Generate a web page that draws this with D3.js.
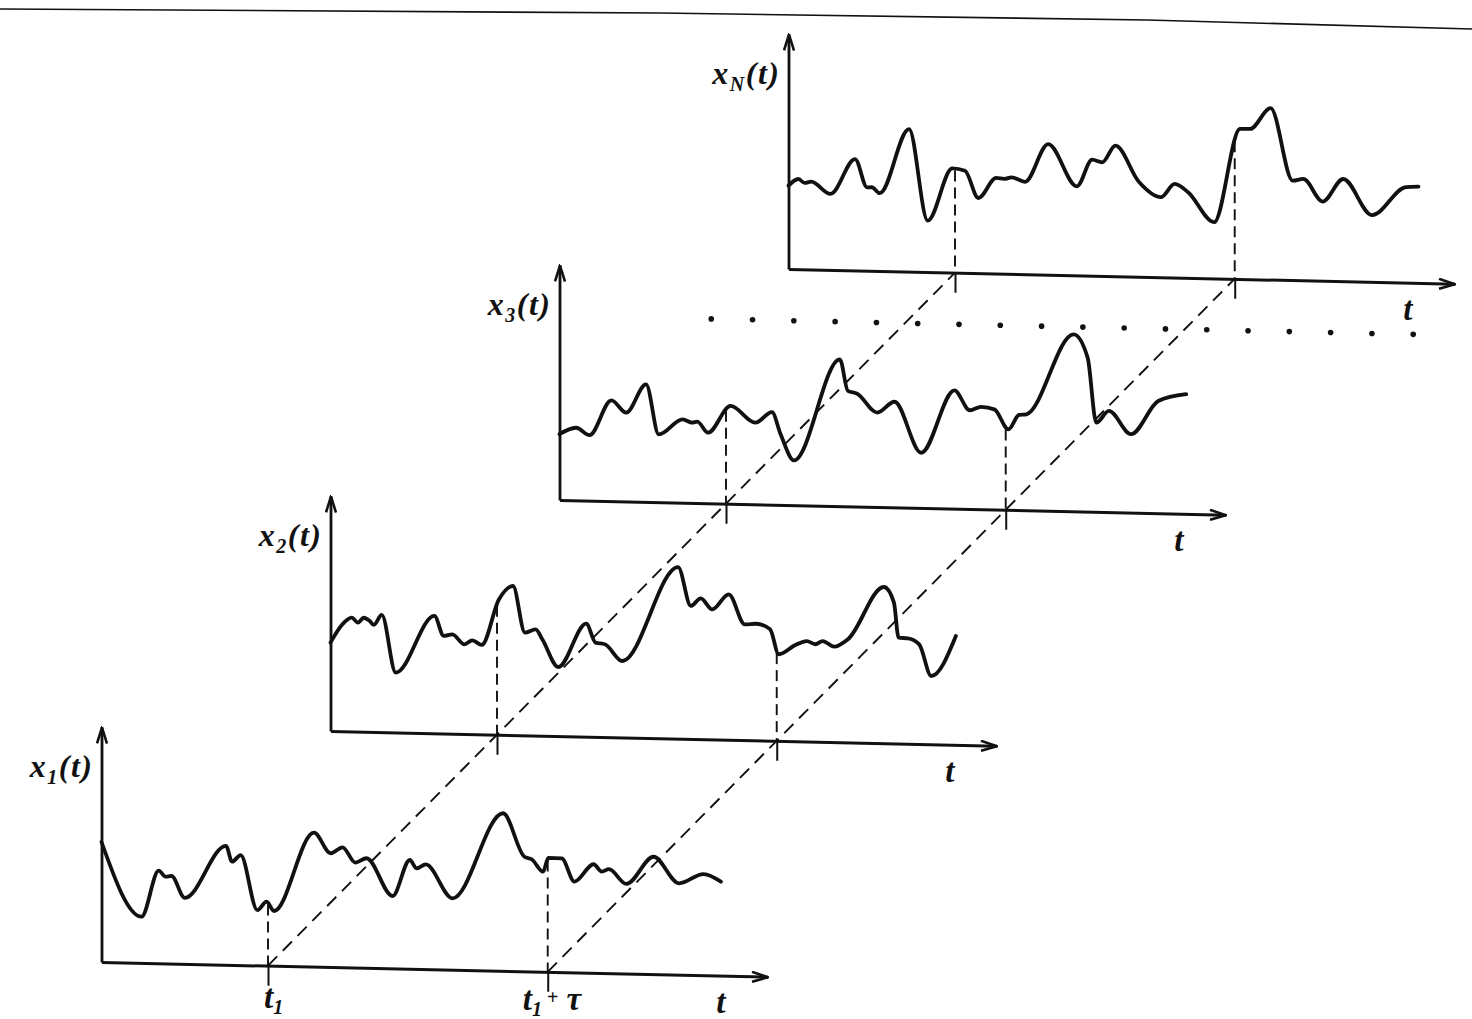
<!DOCTYPE html>
<html>
<head>
<meta charset="utf-8">
<script src="https://cdn.jsdelivr.net/npm/d3@7"></script>
<style>
  body { margin: 0; background: #fff; }
  svg text { font-family: "Liberation Serif", "DejaVu Serif", "Times New Roman", serif; font-style: italic; font-weight: bold; fill: #111; }
</style>
</head>
<body>
<div id="chart"></div>
<script>
const width = 1472;
const height = 1019;

// time axis (same in every panel)
const t1 = 2.5;
const tau = 4.2;
const tEnd = 10;
const vTop = 11.75;

const panelNames = ['1', '2', '3', 'N'];

// sample functions x_k(t)
const x1T = [0, 0.6, 0.86, 0.96, 1.05, 1.25, 1.87, 1.96, 2.09, 2.34, 2.48, 2.59, 3.19, 3.44, 3.62, 3.81, 3.98, 4.37, 4.63, 4.73, 4.87, 5.27, 6.03, 6.35, 6.46, 6.63, 6.71, 6.91, 7.10, 7.39, 7.51, 7.62, 7.88, 8.29, 8.67, 9.04, 9.30];
const x1V = [6.0, 2.31, 4.63, 4.34, 4.38, 3.3, 5.94, 5.16, 5.5, 2.77, 3.2, 2.74, 6.7, 5.69, 6.0, 5.25, 5.48, 3.62, 5.44, 5.03, 5.24, 3.57, 7.88, 5.73, 5.61, 5.0, 5.7, 5.69, 4.54, 5.43, 5.07, 5.2, 4.48, 5.87, 4.57, 5.06, 4.7];

const x2T = [0, 0.18, 0.32, 0.41, 0.5, 0.59, 0.65, 0.77, 0.98, 1.56, 1.70, 1.83, 2.01, 2.13, 2.27, 2.53, 2.74, 2.92, 3.08, 3.18, 3.42, 3.84, 3.98, 4.12, 4.38, 5.22, 5.41, 5.56, 5.73, 5.98, 6.22, 6.39, 6.6, 6.73, 6.98, 7.15, 7.28, 7.39, 7.56, 7.77, 8.31, 8.46, 8.53, 8.67, 8.84, 9.02, 9.39];
const x2V = [4.42, 5.35, 5.69, 5.45, 5.7, 5.54, 5.35, 5.86, 2.99, 5.87, 4.88, 4.97, 4.48, 4.69, 4.47, 6.77, 7.45, 5.13, 5.31, 4.82, 3.45, 5.65, 4.71, 4.64, 3.82, 8.58, 6.65, 7.04, 6.5, 7.27, 5.79, 5.83, 5.57, 4.33, 4.81, 5.02, 4.87, 5.04, 4.77, 5.16, 7.81, 7.04, 5.29, 5.27, 4.98, 3.41, 5.44];

const x3T = [0, 0.25, 0.45, 0.78, 1.0, 1.3, 1.49, 1.85, 1.99, 2.07, 2.23, 2.57, 2.94, 3.19, 3.32, 3.52, 4.21, 4.33, 4.47, 4.77, 5.03, 5.43, 5.93, 6.16, 6.33, 6.53, 6.74, 6.9, 7.01, 7.72, 7.93, 8.06, 8.25, 8.58, 8.99, 9.41];
const x3V = [3.29, 3.63, 3.28, 5.04, 4.44, 5.88, 3.39, 4.17, 4.01, 4.07, 3.53, 4.89, 4.08, 4.63, 3.53, 2.24, 7.34, 5.77, 5.64, 4.72, 5.28, 2.76, 5.92, 4.94, 5.12, 5.01, 4.03, 4.76, 4.8, 8.85, 7.7, 4.46, 5.06, 3.92, 5.61, 5.98];

const xNT = [0, 0.15, 0.24, 0.34, 0.63, 1.0, 1.18, 1.25, 1.37, 1.81, 2.09, 2.46, 2.65, 2.85, 3.12, 3.24, 3.35, 3.55, 3.9, 4.33, 4.56, 4.71, 4.91, 5.26, 5.59, 5.8, 6.0, 6.39, 6.78, 6.93, 7.24, 7.57, 7.73, 8.02, 8.33, 8.76, 9.27, 9.46];
const xNV = [4.17, 4.51, 4.32, 4.39, 3.8, 5.57, 4.17, 4.18, 3.89, 7.13, 2.57, 5.21, 5.11, 3.76, 4.78, 4.74, 4.83, 4.62, 6.53, 4.45, 5.8, 5.68, 6.53, 4.75, 4.0, 4.68, 4.28, 2.81, 7.5, 7.51, 8.57, 4.97, 5.07, 3.96, 5.11, 3.34, 4.77, 4.81];

const seriesT = [x1T, x2T, x3T, xNT];
const seriesV = [x1V, x2V, x3V, xNV];

// layout
const origin = { x: 101.5, y: 962 };
const step = { x: 229, y: -231 };
const plotW = 666;
const plotH = 235;
const shear = 0.022; // the printed page is slightly sheared
const ink = '#111';

const x = d3.scaleLinear().domain([0, tEnd]).range([0, plotW]);
const y = d3.scaleLinear().domain([0, vTop]).range([0, -plotH]);

const svg = d3
  .select('#chart')
  .append('svg')
  .attr('width', width)
  .attr('height', height)
  .style('background', '#fff');

svg.append('defs')
  .append('marker')
  .attr('id', 'arrow')
  .attr('viewBox', '0 0 18 12')
  .attr('refX', 17)
  .attr('refY', 6)
  .attr('markerWidth', 18)
  .attr('markerHeight', 12)
  .attr('markerUnits', 'userSpaceOnUse')
  .attr('orient', 'auto')
  .append('path')
  .attr('d', 'M1,1 L17,6 L1,11')
  .attr('fill', 'none')
  .attr('stroke', ink)
  .attr('stroke-width', 2.6);

// page edge at the top of the scan
svg.append('path')
  .attr('d', d3.line()([[0, 9], [660, 13], [1147, 20], [width, 29]]))
  .attr('fill', 'none')
  .attr('stroke', ink)
  .attr('stroke-width', 1.6);

// panel frame -> page coordinates
function pagePoint(i, t, v) {
  const px = x(t), py = y(v);
  return [origin.x + i * step.x + px, origin.y + i * step.y + py + shear * px];
}

// diagonal dashed lines joining t1 and t1+tau across the ensemble
const last = panelNames.length - 1;
svg.selectAll('.diag')
  .data([t1, t1 + tau])
  .enter()
  .append('line')
  .attr('class', 'diag')
  .attr('x1', (d) => pagePoint(0, d, 0)[0])
  .attr('y1', (d) => pagePoint(0, d, 0)[1])
  .attr('x2', (d) => pagePoint(last, d, 0)[0])
  .attr('y2', (d) => pagePoint(last, d, 0)[1])
  .attr('stroke', ink)
  .attr('stroke-width', 1.9)
  .attr('stroke-dasharray', '13,8');

// "more realisations" dotted row under x_N
const dotsT = d3.range(-1.16, 9.6, 0.62);
svg.selectAll('.dot')
  .data(dotsT)
  .enter()
  .append('circle')
  .attr('class', 'dot')
  .attr('cx', (d) => pagePoint(last, d, -2.58)[0])
  .attr('cy', (d) => pagePoint(last, d, -2.58)[1])
  .attr('r', 2.8)
  .attr('fill', ink);

const skewDeg = Math.atan(shear) * 180 / Math.PI;

function yOnPath(node, px) {
  let lo = 0, hi = node.getTotalLength();
  for (let k = 0; k < 40; k++) {
    const mid = (lo + hi) / 2;
    if (node.getPointAtLength(mid).x < px) lo = mid;
    else hi = mid;
  }
  return node.getPointAtLength(lo).y;
}

const line = d3.line()
  .x((d) => x(d[0]))
  .y((d) => y(d[1]))
  .curve(d3.curveMonotoneX);

panelNames.forEach((name, i) => {
  const ox = origin.x + i * step.x;
  const oy = origin.y + i * step.y;
  const g = svg.append('g')
    .attr('transform', `translate(${ox},${oy}) skewY(${skewDeg})`);

  // x axis with ticks at t1 and t1+tau
  const xAxis = g.append('g').call(
    d3.axisBottom(x).tickValues([t1, t1 + tau]).tickSize(20).tickSizeOuter(0).tickFormat('')
  );
  xAxis.select('.domain').attr('stroke', ink).attr('stroke-width', 3).attr('marker-end', 'url(#arrow)');
  xAxis.selectAll('.tick line').attr('stroke', ink).attr('stroke-width', 2);

  // y axis
  const yAxis = g.append('g').call(d3.axisLeft(y).tickValues([]).tickSizeOuter(0));
  yAxis.select('.domain').attr('stroke', ink).attr('stroke-width', 2.8).attr('marker-end', 'url(#arrow)');

  // the realisation
  const pts = d3.zip(seriesT[i], seriesV[i]);
  const path = g.append('path')
    .datum(pts)
    .attr('d', line)
    .attr('fill', 'none')
    .attr('stroke', ink)
    .attr('stroke-width', 3.8)
    .attr('stroke-linejoin', 'round')
    .attr('stroke-linecap', 'round');

  // dashed drops from the curve to the time axis
  const node = path.node();
  g.selectAll('.drop')
    .data([t1, t1 + tau])
    .enter()
    .append('line')
    .attr('class', 'drop')
    .attr('x1', (d) => x(d))
    .attr('x2', (d) => x(d))
    .attr('y1', (d) => yOnPath(node, x(d)) + 2)
    .attr('y2', 0)
    .attr('stroke', ink)
    .attr('stroke-width', 1.9)
    .attr('stroke-dasharray', '11,6');

  // labels (kept upright)
  const lab = svg.append('text')
    .attr('x', ox - 8)
    .attr('y', oy - plotH + 50)
    .attr('text-anchor', 'end')
    .style('font-size', '32px')
    .style('letter-spacing', '1.5px');
  lab.append('tspan').text('x');
  lab.append('tspan').attr('dy', 7).style('font-size', '20px').text(name);
  lab.append('tspan').attr('dy', -7).text('(t)');

  const tp = pagePoint(i, 9.3, 0);
  svg.append('text')
    .attr('x', tp[0])
    .attr('y', tp[1] + 37)
    .attr('text-anchor', 'middle')
    .style('font-size', '33px')
    .text('t');

  if (i === 0) {
    const a = pagePoint(0, t1, 0);
    const l1 = svg.append('text')
      .attr('x', a[0] - 4)
      .attr('y', a[1] + 42)
      .style('font-size', '33px');
    l1.append('tspan').text('t');
    l1.append('tspan').attr('dy', 6).style('font-size', '20px').text('1');

    const b = pagePoint(0, t1 + tau, 0);
    const l2 = svg.append('text')
      .attr('x', b[0] - 25)
      .attr('y', b[1] + 38)
      .style('font-size', '33px');
    l2.append('tspan').text('t');
    l2.append('tspan').attr('dy', 6).style('font-size', '20px').text('1');
    l2.append('tspan').attr('dy', -12).style('font-size', '20px').style('font-style', 'normal').text(' +');
    l2.append('tspan').attr('dy', 6).text(' τ');
  }
});
</script>
</body>
</html>
